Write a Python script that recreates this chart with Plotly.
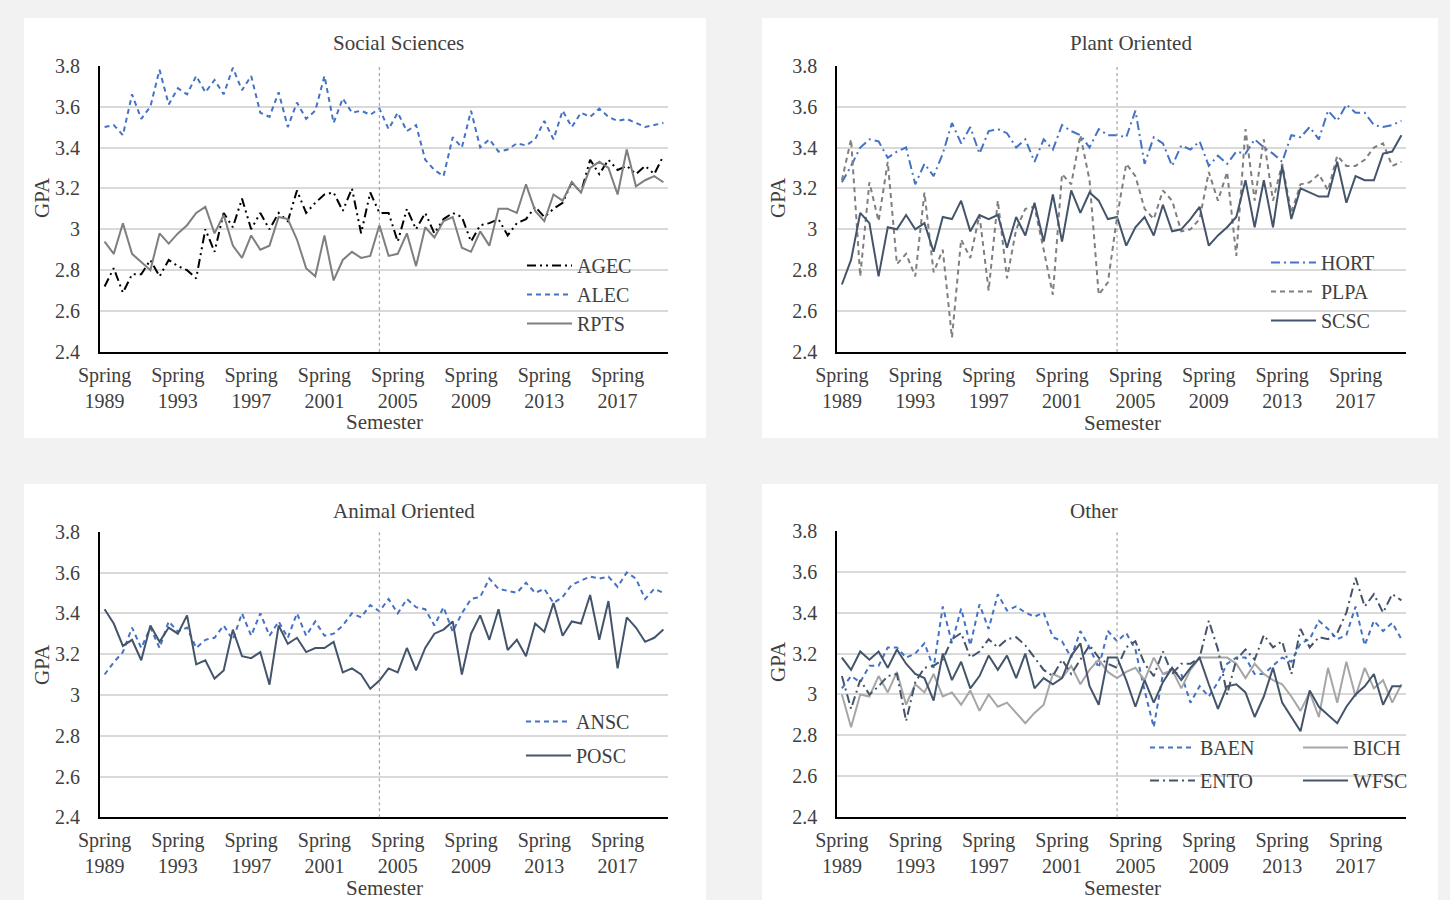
import plotly.graph_objects as go

# ---------------- data ----------------
semesters = [f"{s} {y}" for y in range(1989, 2020) for s in ("Spring", "Fall")]
tick_semesters = [f"Spring {y}" for y in range(1989, 2020, 4)]
tick_labels = [f"Spring<br>{y}" for y in range(1989, 2020, 4)]
gpa_ticks = [2.4, 2.6, 2.8, 3.0, 3.2, 3.4, 3.6, 3.8]
gpa_tick_labels = ["2.4", "2.6", "2.8", "3", "3.2", "3.4", "3.6", "3.8"]
policy_semester = "Spring 2004"

# Social Sciences
AGEC = [2.72, 2.81, 2.69, 2.78, 2.78, 2.85, 2.77, 2.85, 2.82, 2.80, 2.76, 3.00, 2.89, 3.08, 3.01, 3.15,
        3.00, 3.08, 3.00, 3.08, 3.04, 3.19, 3.08, 3.13, 3.17, 3.18, 3.09, 3.20, 2.98, 3.18, 3.08,
        3.08, 2.94, 3.10, 3.00, 3.08, 2.98, 3.05, 3.08, 3.06, 2.94, 3.02, 3.03, 3.05, 2.97, 3.03,
        3.05, 3.11, 3.06, 3.10, 3.13, 3.23, 3.18, 3.34, 3.27, 3.34, 3.29, 3.31, 3.27, 3.31, 3.27, 3.36]
ALEC = [3.50, 3.51, 3.46, 3.66, 3.54, 3.60, 3.78, 3.61, 3.69, 3.66, 3.75, 3.67, 3.73, 3.66, 3.79, 3.68,
        3.75, 3.57, 3.55, 3.67, 3.50, 3.62, 3.54, 3.58, 3.75, 3.52, 3.64, 3.57, 3.58, 3.56, 3.59,
        3.49, 3.57, 3.48, 3.51, 3.34, 3.29, 3.26, 3.45, 3.40, 3.58, 3.40, 3.44, 3.38, 3.39, 3.42,
        3.41, 3.44, 3.53, 3.44, 3.58, 3.50, 3.57, 3.55, 3.59, 3.55, 3.53, 3.54, 3.52, 3.50, 3.51, 3.52]
RPTS = [2.94, 2.88, 3.03, 2.88, 2.84, 2.80, 2.98, 2.93, 2.98, 3.02, 3.08, 3.11, 2.98, 3.07, 2.92, 2.86,
        2.97, 2.90, 2.92, 3.06, 3.05, 2.95, 2.81, 2.77, 2.97, 2.75, 2.85, 2.89, 2.86, 2.87, 3.02,
        2.87, 2.88, 2.98, 2.82, 3.01, 2.96, 3.04, 3.06, 2.91, 2.89, 2.99, 2.92, 3.10, 3.10, 3.08,
        3.22, 3.09, 3.04, 3.17, 3.14, 3.23, 3.18, 3.30, 3.33, 3.30, 3.17, 3.39, 3.21, 3.24, 3.26, 3.23]

# Plant Oriented
HORT = [3.23, 3.31, 3.40, 3.44, 3.43, 3.35, 3.38, 3.40, 3.22, 3.32, 3.26, 3.37, 3.52, 3.42, 3.50, 3.37,
        3.48, 3.49, 3.47, 3.40, 3.44, 3.33, 3.44, 3.39, 3.51, 3.48, 3.46, 3.40, 3.49, 3.46, 3.46,
        3.45, 3.58, 3.32, 3.45, 3.42, 3.31, 3.41, 3.39, 3.43, 3.31, 3.36, 3.32, 3.38, 3.37, 3.44,
        3.40, 3.37, 3.33, 3.46, 3.45, 3.50, 3.44, 3.58, 3.53, 3.61, 3.57, 3.57, 3.51, 3.50, 3.51, 3.53]
PLPA = [3.24, 3.44, 2.77, 3.23, 3.04, 3.33, 2.83, 2.88, 2.77, 3.18, 2.79, 2.90, 2.47, 2.95, 2.86, 3.07,
        2.70, 3.14, 2.76, 3.00, 3.10, 3.11, 2.90, 2.68, 3.27, 3.22, 3.46, 3.24, 2.68, 2.74, 3.06,
        3.32, 3.26, 3.10, 3.05, 3.19, 3.14, 2.99, 3.00, 3.05, 3.28, 3.14, 3.28, 2.87, 3.49, 3.14,
        3.44, 3.14, 3.32, 3.08, 3.22, 3.23, 3.27, 3.19, 3.36, 3.31, 3.31, 3.34, 3.40, 3.42, 3.31, 3.33]
SCSC = [2.73, 2.85, 3.08, 3.03, 2.77, 3.01, 3.00, 3.07, 3.00, 3.03, 2.89, 3.06, 3.05, 3.14, 2.99, 3.07,
        3.05, 3.07, 2.91, 3.06, 2.97, 3.13, 2.94, 3.17, 2.94, 3.19, 3.08, 3.18, 3.14, 3.05, 3.06,
        2.92, 3.01, 3.06, 2.97, 3.12, 2.99, 3.00, 3.05, 3.11, 2.92, 2.97, 3.01, 3.06, 3.24, 3.01,
        3.24, 3.01, 3.31, 3.05, 3.20, 3.18, 3.16, 3.16, 3.33, 3.13, 3.26, 3.24, 3.24, 3.37, 3.38, 3.46]

# Animal Oriented
ANSC = [3.10, 3.16, 3.21, 3.33, 3.23, 3.33, 3.23, 3.36, 3.31, 3.33, 3.23, 3.27, 3.28, 3.34, 3.27, 3.40,
        3.29, 3.40, 3.29, 3.36, 3.28, 3.40, 3.29, 3.36, 3.29, 3.30, 3.34, 3.40, 3.38, 3.44, 3.41,
        3.47, 3.40, 3.47, 3.43, 3.42, 3.34, 3.43, 3.31, 3.40, 3.47, 3.48, 3.57, 3.52, 3.51, 3.50,
        3.55, 3.50, 3.52, 3.45, 3.48, 3.54, 3.56, 3.58, 3.57, 3.58, 3.53, 3.60, 3.57, 3.47, 3.52, 3.50]
POSC = [3.42, 3.35, 3.24, 3.27, 3.17, 3.34, 3.26, 3.33, 3.30, 3.39, 3.15, 3.17, 3.08, 3.12, 3.32, 3.19,
        3.18, 3.21, 3.05, 3.34, 3.25, 3.28, 3.21, 3.23, 3.23, 3.26, 3.11, 3.13, 3.10, 3.03, 3.07,
        3.13, 3.11, 3.23, 3.12, 3.23, 3.30, 3.32, 3.36, 3.10, 3.30, 3.39, 3.27, 3.42, 3.22, 3.27,
        3.19, 3.35, 3.31, 3.45, 3.29, 3.36, 3.35, 3.49, 3.27, 3.46, 3.13, 3.38, 3.33, 3.26, 3.28, 3.32]

# Other
BAEN = [3.03, 3.09, 3.06, 3.14, 3.14, 3.23, 3.23, 3.18, 3.20, 3.25, 3.13, 3.43, 3.25, 3.42, 3.24, 3.44,
        3.32, 3.49, 3.41, 3.43, 3.40, 3.38, 3.40, 3.28, 3.26, 3.18, 3.31, 3.23, 3.13, 3.31, 3.26,
        3.30, 3.22, 3.02, 2.84, 3.10, 3.11, 3.10, 2.96, 3.04, 2.99, 3.06, 3.15, 3.18, 3.18, 3.10,
        3.10, 3.14, 3.18, 3.16, 3.25, 3.27, 3.36, 3.32, 3.27, 3.29, 3.43, 3.24, 3.36, 3.31, 3.35, 3.27]
BICH = [3.00, 2.84, 3.00, 2.99, 3.09, 3.01, 3.11, 2.95, 3.05, 3.01, 3.10, 2.99, 3.01, 2.95, 3.02, 2.92,
        3.00, 2.94, 2.96, 2.91, 2.86, 2.91, 2.95, 3.10, 3.08, 3.14, 3.05, 3.12, 3.17, 3.11, 3.08,
        3.11, 3.13, 3.07, 3.18, 3.10, 3.12, 3.03, 3.12, 3.18, 3.18, 3.18, 3.18, 3.15, 3.08, 3.15,
        3.10, 3.07, 3.05, 2.99, 2.92, 3.01, 2.89, 3.13, 2.96, 3.16, 2.99, 3.13, 3.03, 3.07, 2.96, 3.05]
ENTO = [3.09, 2.93, 3.07, 3.00, 3.04, 3.09, 3.10, 2.87, 3.06, 3.13, 3.14, 3.17, 3.27, 3.30, 3.18, 3.21,
        3.27, 3.23, 3.27, 3.28, 3.24, 3.18, 3.12, 3.09, 3.17, 3.10, 3.17, 3.24, 3.18, 3.15, 3.13,
        3.23, 3.26, 3.15, 3.09, 3.21, 3.10, 3.15, 3.15, 3.18, 3.36, 3.22, 3.00, 3.17, 3.22, 3.17,
        3.29, 3.23, 3.26, 3.10, 3.32, 3.23, 3.28, 3.27, 3.30, 3.40, 3.57, 3.43, 3.49, 3.40, 3.49, 3.46]
WFSC = [3.18, 3.12, 3.21, 3.17, 3.21, 3.13, 3.22, 3.15, 3.10, 3.08, 2.97, 3.20, 3.07, 3.16, 3.03, 3.09,
        3.19, 3.12, 3.19, 3.08, 3.20, 3.03, 3.08, 3.05, 3.08, 3.19, 3.25, 3.04, 2.95, 3.18, 3.18,
        3.07, 2.94, 3.07, 2.96, 3.06, 3.13, 3.07, 3.13, 3.18, 3.05, 2.93, 3.04, 3.05, 3.01, 2.89,
        2.99, 3.13, 2.96, 2.89, 2.82, 3.02, 2.94, 2.90, 2.86, 2.94, 3.00, 3.04, 3.10, 2.95, 3.04, 3.04]

# ---------------- styling ----------------
FONT = "Liberation Serif"
TXT = "#404040"
BLUE = "#4472C4"
SLATE = "#44546A"
GRAY = "#7F7F7F"
LIGHT = "#A6A6A6"
W, H = 1450, 900

fig = go.Figure()

panels = [
    # (xaxis id, yaxis id, x px range, y px range (top,bottom), bg rect)
    ("x", "y", (100, 668), (65.7, 352), (24, 18, 706, 438)),
    ("x2", "y2", (837.3, 1406), (65.7, 352), (762, 18, 1438, 438)),
    ("x3", "y3", (100, 668), (531.7, 817.3), (24, 484, 706, 900)),
    ("x4", "y4", (837.3, 1406), (530.7, 817.3), (762, 484, 1438, 900)),
]

series = [
    # name, data, panel index, color, dash, legend
    ("AGEC", AGEC, 0, "#000000", "9px,4px,2px,4px,2px,4px", "legend"),
    ("ALEC", ALEC, 0, BLUE, "5px,4px", "legend"),
    ("RPTS", RPTS, 0, GRAY, "solid", "legend"),
    ("HORT", HORT, 1, BLUE, "9px,4px,2px,4px", "legend2"),
    ("PLPA", PLPA, 1, GRAY, "5px,4px", "legend2"),
    ("SCSC", SCSC, 1, SLATE, "solid", "legend2"),
    ("ANSC", ANSC, 2, BLUE, "5px,4px", "legend3"),
    ("POSC", POSC, 2, SLATE, "solid", "legend3"),
    ("BAEN", BAEN, 3, BLUE, "5px,4px", "legend4"),
    ("BICH", BICH, 3, LIGHT, "solid", "legend5"),
    ("ENTO", ENTO, 3, SLATE, "9px,4px,2px,4px", "legend4"),
    ("WFSC", WFSC, 3, SLATE, "solid", "legend5"),
]

for name, vals, p, color, dash, leg in series:
    xa, ya = panels[p][0], panels[p][1]
    fig.add_trace(go.Scatter(
        x=semesters, y=vals, name=name, mode="lines",
        line=dict(color=color, width=2, dash=dash),
        xaxis=xa, yaxis=ya, legend=leg, legendgroup=name,
    ))

layout = dict(
    width=W, height=H, autosize=False,
    margin=dict(l=0, r=0, t=0, b=0, pad=0),
    paper_bgcolor="#F2F2F2", plot_bgcolor="rgba(0,0,0,0)",
    font=dict(family=FONT, color=TXT, size=20),
    shapes=[], annotations=[],
)

for i, (xa, ya, (x0, x1), (yt, yb), rect) in enumerate(panels):
    xkey = "xaxis" + xa[1:]
    ykey = "yaxis" + ya[1:]
    layout[xkey] = dict(
        domain=[x0 / W, x1 / W], anchor=ya, type="category",
        categoryorder="array", categoryarray=semesters,
        range=[-0.5, len(semesters) - 0.5],
        tickmode="array", tickvals=tick_semesters, ticktext=tick_labels,
        showgrid=False, showline=True, linecolor="#000000", linewidth=2,
        ticks="", tickfont=dict(size=20, color=TXT), ticklabelstandoff=4,
        zeroline=False, fixedrange=True, automargin=False,
    )
    layout[ykey] = dict(
        domain=[1 - yb / H, 1 - yt / H], anchor=xa,
        range=[2.4, 3.8], tickmode="array", tickvals=gpa_ticks, ticktext=gpa_tick_labels,
        showgrid=True, gridcolor="#D9D9D9", gridwidth=1.5,
        showline=True, linecolor="#000000", linewidth=2, mirror=False,
        ticks="", tickfont=dict(size=20, color=TXT), ticklabelstandoff=14,
        zeroline=False, fixedrange=True, automargin=False,
    )
    rx0, ry0, rx1, ry1 = rect
    layout["shapes"].append(dict(
        type="rect", xref="paper", yref="paper", layer="below",
        x0=rx0 / W, x1=rx1 / W, y0=1 - ry1 / H, y1=1 - ry0 / H,
        fillcolor="#FFFFFF", line=dict(width=0),
    ))
    # policy-change dotted marker
    layout["shapes"].append(dict(
        type="line", xref=xa, yref=ya + " domain", x0=policy_semester, x1=policy_semester,
        y0=0, y1=1, line=dict(color="#A6A6A6", width=1.2, dash="dot"), layer="above",
    ))

titles = [("Social Sciences", 399, 43), ("Plant Oriented", 1131, 43),
          ("Animal Oriented", 404, 511), ("Other", 1094, 511)]
for t, cx, cy in titles:
    layout["annotations"].append(dict(text=t, xref="paper", yref="paper", x=cx / W, y=1 - cy / H,
                                      xanchor="center", yanchor="middle", showarrow=False,
                                      font=dict(size=21, color=TXT)))
for cx, cy in [(384, 422), (1122, 423), (384, 888), (1122, 888)]:
    layout["annotations"].append(dict(text="Semester", xref="paper", yref="paper", x=cx / W, y=1 - cy / H,
                                      xanchor="center", yanchor="middle", showarrow=False,
                                      font=dict(size=21, color=TXT)))
for cx, cy in [(42, 198), (778, 198), (42, 665), (778, 662)]:
    layout["annotations"].append(dict(text="GPA", xref="paper", yref="paper", x=cx / W, y=1 - cy / H,
                                      xanchor="center", yanchor="middle", showarrow=False, textangle=-90,
                                      font=dict(size=21, color=TXT)))

leg_common = dict(bgcolor="rgba(0,0,0,0)", borderwidth=0, font=dict(size=20, color=TXT),
                  xanchor="left", yanchor="top", traceorder="grouped", tracegroupgap=0,
                  itemwidth=45)
layout["legend"] = dict(leg_common, x=522 / W, y=1 - 246 / H)
layout["legend2"] = dict(leg_common, x=1266 / W, y=1 - 243 / H)
layout["legend3"] = dict(leg_common, x=521 / W, y=1 - 702 / H, tracegroupgap=5)
layout["legend4"] = dict(leg_common, x=1145 / W, y=1 - 728 / H, tracegroupgap=4)
layout["legend5"] = dict(leg_common, x=1298 / W, y=1 - 728 / H, tracegroupgap=4)
layout["showlegend"] = True

fig.update_layout(**layout)
fig.write_html("out.html", config={"displayModeBar": False},
               post_script="document.body.style.margin='0px';")
